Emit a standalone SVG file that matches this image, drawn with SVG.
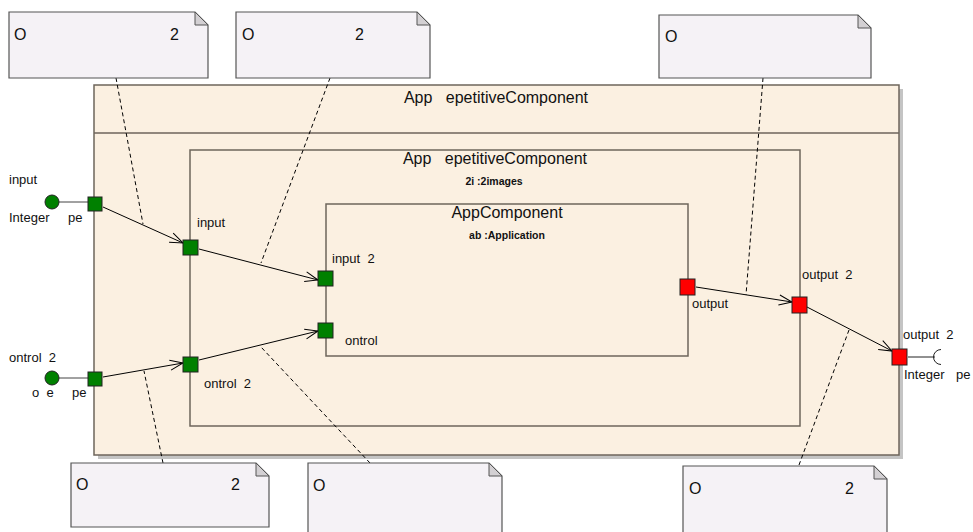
<svg xmlns="http://www.w3.org/2000/svg" width="973" height="532" viewBox="0 0 973 532">
<defs>
<marker id="arr" markerUnits="userSpaceOnUse" markerWidth="14" markerHeight="12" refX="13" refY="5" orient="auto" overflow="visible">
<path d="M0,0 L13,5 L0,10" fill="none" stroke="#000" stroke-width="1"/>
</marker>
<style>
text{font-family:"Liberation Sans",Arial,sans-serif;fill:#111;white-space:pre}
.title{font-size:16px;text-anchor:middle}
.sub{font-size:10.5px;font-weight:bold;text-anchor:middle}
.lbl{font-size:13px}
.nt{font-size:16px}
.box{fill:#FBF0E1;stroke:#6E655B;stroke-width:1.5}
.line{fill:none;stroke:#6E655B;stroke-width:1.5}
.note{fill:#F5F2F6;stroke:#555;stroke-width:1.2}
.fold{fill:#D3D0D3;stroke:#555;stroke-width:1}
.conn{fill:none;stroke:#000;stroke-width:1;marker-end:url(#arr)}
.dash{fill:none;stroke:#000;stroke-width:1;stroke-dasharray:4,3}
.pg{fill:#008000;stroke:#222;stroke-width:1}
.pr{fill:#FF0000;stroke:#222;stroke-width:1}
</style>
</defs>
<rect width="973" height="532" fill="#fff"/>

<g id="outer">
<rect x="98" y="89" width="805" height="370" fill="#C4C4C4"/>
<rect class="box" x="94" y="85" width="805" height="370"/>
<line class="line" x1="94" y1="133" x2="899" y2="133"/>
<text class="title" x="496" y="103">App   epetitiveComponent</text>
</g>

<g id="mid">
<rect class="box" x="190" y="150" width="610" height="276"/>
<text class="title" x="495" y="164">App   epetitiveComponent</text>
<text class="sub" x="494" y="185">2i :2images</text>
</g>

<g id="app">
<rect class="box" x="326" y="204" width="362" height="152"/>
<text class="title" x="507" y="218">AppComponent</text>
<text class="sub" x="507" y="239">ab :Application</text>
</g>

<g id="notelinks">
<line class="dash" x1="116" y1="78" x2="143" y2="224"/>
<line class="dash" x1="330" y1="78" x2="261" y2="263"/>
<line class="dash" x1="763" y1="78" x2="746" y2="295"/>
<line class="dash" x1="163" y1="463" x2="144" y2="371"/>
<line class="dash" x1="370" y1="463" x2="261" y2="347"/>
<line class="dash" x1="799" y1="465" x2="849" y2="330"/>
</g>

<g id="connectors">
<line class="conn" x1="103" y1="207" x2="183" y2="243"/>
<line class="conn" x1="199" y1="249" x2="318" y2="280"/>
<line class="conn" x1="103" y1="377" x2="183" y2="363"/>
<line class="conn" x1="199" y1="360" x2="318" y2="331"/>
<line class="conn" x1="696" y1="287" x2="792" y2="302"/>
<line class="conn" x1="807" y1="307" x2="892" y2="351"/>
</g>

<g id="port-input-outer">
<line x1="59" y1="202" x2="88" y2="202" stroke="#444" stroke-width="1"/>
<circle class="pg" cx="52" cy="202" r="7"/>
<rect class="pg" x="88" y="197" width="14" height="14"/>
<text class="lbl" x="9" y="184">input</text>
<text class="lbl" x="9" y="222">Integer</text>
<text class="lbl" x="68" y="222">pe</text>
</g>

<g id="port-control-outer">
<line x1="59" y1="378" x2="88" y2="378" stroke="#444" stroke-width="1"/>
<circle class="pg" cx="52" cy="378" r="7"/>
<rect class="pg" x="88" y="372" width="14" height="14"/>
<text class="lbl" x="9" y="362">ontrol  2</text>
<text class="lbl" x="32" y="397">o  e</text>
<text class="lbl" x="72" y="397">pe</text>
</g>

<g id="port-input-mid">
<rect class="pg" x="183" y="240" width="15" height="15"/>
<text class="lbl" x="197" y="227">input</text>
</g>

<g id="port-control-mid">
<rect class="pg" x="183" y="357" width="15" height="15"/>
<text class="lbl" x="204" y="388">ontrol  2</text>
</g>

<g id="port-input2-app">
<rect class="pg" x="318" y="271" width="15" height="15"/>
<text class="lbl" x="332" y="263">input  2</text>
</g>

<g id="port-control-app">
<rect class="pg" x="318" y="323" width="15" height="15"/>
<text class="lbl" x="345" y="345">ontrol</text>
</g>

<g id="port-output-app">
<rect class="pr" x="680" y="279" width="15" height="16"/>
<text class="lbl" x="692" y="308">output</text>
</g>

<g id="port-output2-mid">
<rect class="pr" x="792" y="297" width="15" height="16"/>
<text class="lbl" x="802" y="279">output  2</text>
</g>

<g id="port-output2-outer">
<line x1="908" y1="357" x2="935" y2="357" stroke="#222" stroke-width="1"/>
<path d="M941,349.5 A7.5,7.5 0 0 0 941,364.5" fill="none" stroke="#222" stroke-width="1"/>
<rect class="pr" x="892" y="349" width="15" height="16"/>
<text class="lbl" x="903" y="339">output  2</text>
<text class="lbl" x="904" y="379">Integer</text>
<text class="lbl" x="956" y="379">pe</text>
</g>

<g id="note1">
<path class="note" d="M9,12 H195 L208,25 V78 H9 Z"/>
<path class="fold" d="M195,12 L208,25 H195 Z"/>
<text class="nt" x="14" y="40">O</text>
<text class="nt" x="170" y="40">2</text>
</g>
<g id="note2">
<path class="note" d="M236,12 H417 L430,25 V78 H236 Z"/>
<path class="fold" d="M417,12 L430,25 H417 Z"/>
<text class="nt" x="242" y="40">O</text>
<text class="nt" x="355" y="40">2</text>
</g>
<g id="note3">
<path class="note" d="M659,15 H858 L871,28 V78 H659 Z"/>
<path class="fold" d="M858,15 L871,28 H858 Z"/>
<text class="nt" x="665" y="42">O</text>
</g>
<g id="note4">
<path class="note" d="M71,463 H256 L269,476 V527 H71 Z"/>
<path class="fold" d="M256,463 L269,476 H256 Z"/>
<text class="nt" x="76" y="490">O</text>
<text class="nt" x="231" y="490">2</text>
</g>
<g id="note5">
<path class="note" d="M308,463 H489 L502,476 V540 H308 Z"/>
<path class="fold" d="M489,463 L502,476 H489 Z"/>
<text class="nt" x="313" y="491">O</text>
</g>
<g id="note6">
<path class="note" d="M683,466 H874 L887,479 V540 H683 Z"/>
<path class="fold" d="M874,466 L887,479 H874 Z"/>
<text class="nt" x="689" y="494">O</text>
<text class="nt" x="845" y="494">2</text>
</g>
</svg>
